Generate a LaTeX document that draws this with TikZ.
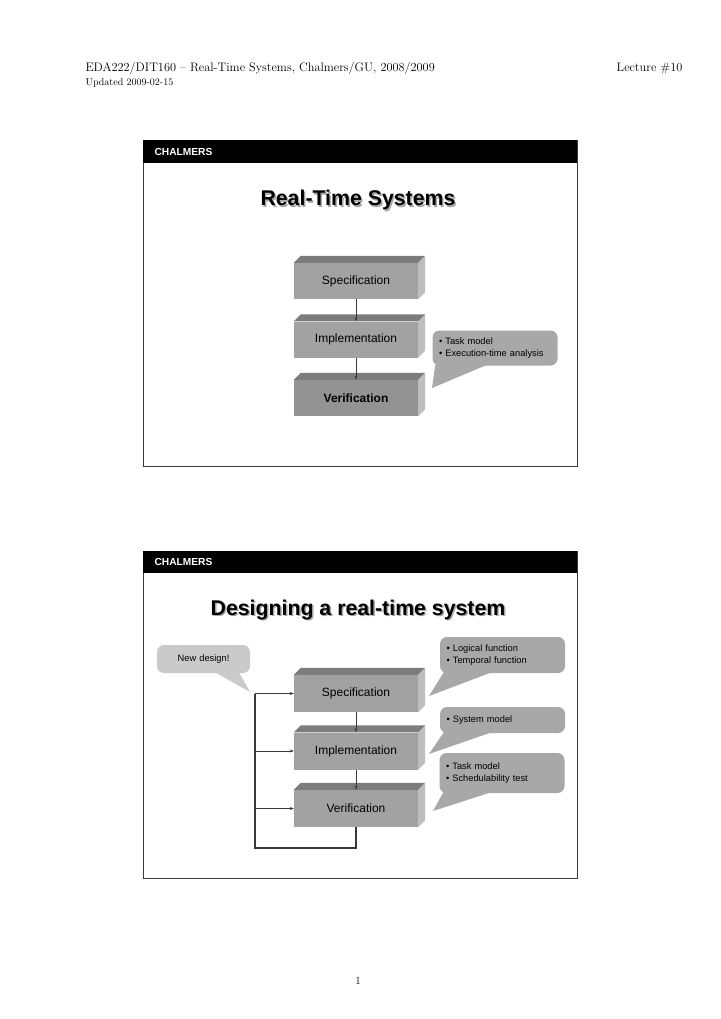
\documentclass[tikz,border=0pt]{standalone}
\usepackage{fontspec}
\setsansfont{Liberation Sans}
\usetikzlibrary{positioning,calc,arrows.meta}

\definecolor{facefront}{HTML}{A2A2A2}
\definecolor{facedark}{HTML}{939393}
\definecolor{facetop}{HTML}{7C7C7C}
\definecolor{faceside}{HTML}{BEBEBE}
\definecolor{bubble}{HTML}{A8A8A8}
\definecolor{bubblelight}{HTML}{CACACA}
\definecolor{linegray}{HTML}{3A3A3A}

\tikzset{
  block/.style={fill=facefront, minimum width=124pt, minimum height=36pt,
    inner sep=0pt, font=\sffamily\fontsize{12}{14}\selectfont},
  bubblebox/.style={fill=bubble, rounded corners=7pt, minimum width=125pt,
    align=left, inner sep=0pt, text width=112pt,
    font=\sffamily\fontsize{9.3}{11.5}\selectfont},
  flow/.style={-{Stealth[length=4pt,width=3pt]}, linegray, line width=0.8pt},
  loopline/.style={linegray, line width=1.6pt},
  slidetitle/.style={font=\sffamily\bfseries\fontsize{21.3}{24}\selectfont},
  brand/.style={white, anchor=base west, font=\sffamily\bfseries\fontsize{10.2}{12}\selectfont},
}

% top and side faces of a block
\newcommand{\blockdepth}[1]{%
  \fill[facetop] (#1.north west) -- ++(7,-7) -- ($(#1.north east)+(7,-7)$) -- (#1.north east) -- cycle;
  \fill[faceside] (#1.north east) -- ++(7,-7) -- ($(#1.south east)+(7,-7)$) -- (#1.south east) -- cycle;
}

\begin{document}
\begin{tikzpicture}[x=1pt, y=-1pt]
  \useasboundingbox (0,0) rectangle (720,1019);
  \fill[white] (0,0) rectangle (720,1019);

  % Page header
  \node[anchor=base west, font=\fontsize{12.3}{14}\selectfont] (head) at (82,72)
    {EDA222/DIT160 -- Real-Time Systems, Chalmers/GU, 2008/2009};
  \node[anchor=base east, font=\fontsize{12.3}{14}\selectfont] (lect) at (686,72) {Lecture \#10};
  \node[anchor=base west, font=\fontsize{10}{12}\selectfont] (upd) at (82,86) {Updated 2009-02-15};

  % ---------------- Slide 1 ----------------
  \draw[linegray, line width=0.8pt] (143,140) rectangle (577,466);
  \fill[black] (143,140) rectangle (577,163);
  \node[brand] (brand1) at (151,155.5) {CHALMERS};
  \node[slidetitle, gray!70] at (359.5,201.5) {Real-Time Systems};
  \node[slidetitle] (title1) at (358,200) {Real-Time Systems};

  \node[block] (spec1) at (356,281) {Specification};
  \node[block] (impl1) at (356,339.5) {Implementation};
  \node[block, fill=facedark, font=\sffamily\bfseries\fontsize{12}{14}\selectfont] (veri1) at (356,398) {Verification};
  \foreach \b in {spec1,impl1,veri1} {\blockdepth{\b}}

  \draw[flow] (spec1) -- (impl1.north -| spec1.south);
  \draw[flow] (impl1) -- (veri1.north -| impl1.south);

  % Callout
  \coordinate (tip1) at (432,388);
  \node[bubblebox, minimum height=35pt] (note1) at (495,348)
    {\textbullet{} Task model\\\textbullet{} Execution-time analysis};
  \fill[bubble] ($(note1.south west)+(3,-1)$) -- (tip1) -- ($(note1.south west)+(55,-1)$) -- cycle;

  % ---------------- Slide 2 ----------------
  \draw[linegray, line width=0.8pt] (143,551) rectangle (577,878);
  \fill[black] (143,551) rectangle (577,573);
  \node[brand] (brand2) at (151,565.5) {CHALMERS};
  \node[slidetitle, gray!70] at (359.5,611.5) {Designing a real-time system};
  \node[slidetitle] (title2) at (358,610) {Designing a real-time system};

  \node[block, minimum height=37pt] (spec2) at (356,693.5) {Specification};
  \node[block, minimum height=37pt] (impl2) at (356,751) {Implementation};
  \node[block, minimum height=37pt] (veri2) at (356,808.5) {Verification};
  \foreach \b in {spec2,impl2,veri2} {\blockdepth{\b}}

  \draw[flow] (spec2) -- (impl2.north -| spec2.south);
  \draw[flow] (impl2) -- (veri2.north -| impl2.south);

  % Feedback loop
  \coordinate (loop) at (255,848);
  \draw[loopline] (veri2.south) |- (loop) -- (loop |- spec2.west);
  \draw[flow] (loop |- spec2.west) -- (spec2.west);
  \draw[flow] (loop |- impl2.west) -- (impl2.west);
  \draw[flow] (loop |- veri2.west) -- (veri2.west);

  % Callouts
  \coordinate (tipnew) at (250,692);
  \node[bubblebox, fill=bubblelight, minimum width=93pt, text width=93pt,
    align=center, minimum height=28pt] (newdes) at (203.5,659) {New design!};
  \fill[bubblelight] ($(newdes.south west)+(58,-1)$) -- (tipnew) -- ($(newdes.south west)+(82,-1)$) -- cycle;

  \coordinate (tiplog) at (429,696);
  \node[bubblebox, minimum height=36pt] (logic) at (502.5,655)
    {\textbullet{} Logical function\\\textbullet{} Temporal function};
  \fill[bubble] ($(logic.south west)+(4,-1)$) -- (tiplog) -- ($(logic.south west)+(52,-1)$) -- cycle;

  \coordinate (tipsys) at (429,754);
  \node[bubblebox, minimum height=26pt] (sysmod) at (502.5,720)
    {\textbullet{} System model};
  \fill[bubble] ($(sysmod.south west)+(4,-1)$) -- (tipsys) -- ($(sysmod.south west)+(52,-1)$) -- cycle;

  \coordinate (tiptask) at (433,811);
  \node[bubblebox, minimum height=40pt] (taskmod) at (502,773)
    {\textbullet{} Task model\\\textbullet{} Schedulability test};
  \fill[bubble] ($(taskmod.south west)+(4,-1)$) -- (tiptask) -- ($(taskmod.south west)+(52,-1)$) -- cycle;

  % Page number
  \node[anchor=base, font=\fontsize{11}{13}\selectfont] (pageno) at (358,984) {1};
\end{tikzpicture}
\end{document}
